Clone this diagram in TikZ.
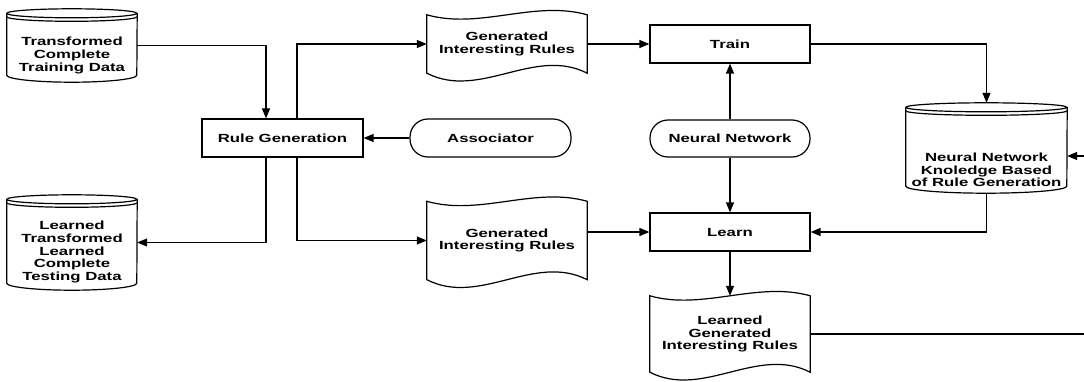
\documentclass[tikz,border=0pt]{standalone}
\usepackage{fontspec}
\newfontfamily\diagfont{Liberation Sans Bold}[FakeStretch=1.42]
\usetikzlibrary{arrows.meta}

% wavy "document/tape" outline around a node
\newcommand\tapeoutline[1]{%
  \draw[outline] (#1.north west) .. controls +(53,-15) and +(-53,15) .. (#1.north east)
    -- (#1.south east) .. controls +(-53,27) and +(53,-27) .. (#1.south west) -- cycle;}

% stored-data cylinder outline around a node (#2 = half width)
\newcommand\cylinderoutline[2]{%
  \draw[outline] ([yshift=-4.5pt]#1.north west)
      arc[start angle=180, end angle=540, x radius=#2, y radius=4.5pt]
    -- ([yshift=7pt]#1.south west)
      arc[start angle=180, end angle=360, x radius=#2, y radius=7pt]
    -- ([yshift=-4.5pt]#1.north east);
  \draw[outline] ([yshift=-8pt]#1.north west)
      arc[start angle=180, end angle=360, x radius=#2, y radius=4.5pt];}

\begin{document}
\begin{tikzpicture}[x=1pt,y=1pt,
  every node/.style={font=\diagfont\fontsize{11.8}{12.7}\selectfont,
                     align=center, inner sep=0pt},
  outline/.style={draw=black, line width=1.2pt},
  proc/.style={outline, rectangle, minimum width=160pt, minimum height=38pt},
  term/.style={outline, rectangle, rounded corners=18pt, minimum width=160pt, minimum height=37pt},
  holder/.style={rectangle, minimum width=160pt},
  flow/.style={line width=1.2pt, -{Triangle[length=10pt,width=8pt]}},
]
\useasboundingbox (0,0) rectangle (1084,381);
\clip (0,0) rectangle (1084,381);

% data stores
\node[rectangle, minimum width=130pt, minimum height=73pt] (tlc) at (72,335.5) {};
\cylinderoutline{tlc}{65pt}
\node (tlct) at (72,325.5) {Transformed\\Complete\\Training Data};

\node[rectangle, minimum width=130pt, minimum height=95pt] (blc) at (72,138.5) {};
\cylinderoutline{blc}{65pt}
\node (blct) at (72,129) {Learned\\Transformed\\Learned\\Complete\\Testing Data};

\node[rectangle, minimum width=161pt, minimum height=90pt] (nnkb) at (986.5,233) {};
\cylinderoutline{nnkb}{80.5pt}
\node (nnkbt) at (986.5,211) {Neural Network\\Knoledge Based\\of Rule Generation};

% processes and terminals
\node[proc, minimum width=161pt] (rg) at (282.5,243) {Rule Generation};
\node[term, minimum width=161pt, minimum height=38pt] (assoc) at (490.5,243) {Associator};
\node[proc] (train) at (730,337) {Train};
\node[term] (nn) at (730,242.5) {Neural Network};
\node[proc] (learn) at (730,149) {Learn};

% documents
\node[holder, minimum height=58pt] (gir1) at (507,337) {Generated\\Interesting Rules};
\tapeoutline{gir1}
\node[holder, minimum height=78pt] (gir2) at (507,140.5) {Generated\\Interesting Rules};
\tapeoutline{gir2}
\node[holder, minimum height=76pt] (lgir) at (730,47) {Learned\\Generated\\Interesting Rules};
\tapeoutline{lgir}

% connectors
\coordinate (ret) at (1096,150);
\draw[flow] (tlc.east) -| ([xshift=-16.5pt]rg.north);
\draw[flow] ([xshift=14.5pt]rg.north) |- (gir1.west);
\draw[flow] (gir1.east) -- (train.west);
\draw[flow] (train.east) -| (nnkb.north);
\draw[flow] (assoc.west) -- (rg.east);
\draw[flow] (nn.north) -- (train.south);
\draw[flow] (nn.south) -- (learn.north);
\draw[flow] ([xshift=-16.5pt]rg.south) |- (blc.east);
\draw[flow] ([xshift=14.5pt]rg.south) |- (gir2.west);
\draw[flow] (gir2.east |- learn.west) -- (learn.west);
\draw[flow] (nnkb.south) |- (learn.east);
\draw[flow] (learn.south) -- (lgir.north);
\draw[flow] (lgir.east) -| (ret) |- ([yshift=-8pt]nnkb.east);
\end{tikzpicture}
\end{document}
